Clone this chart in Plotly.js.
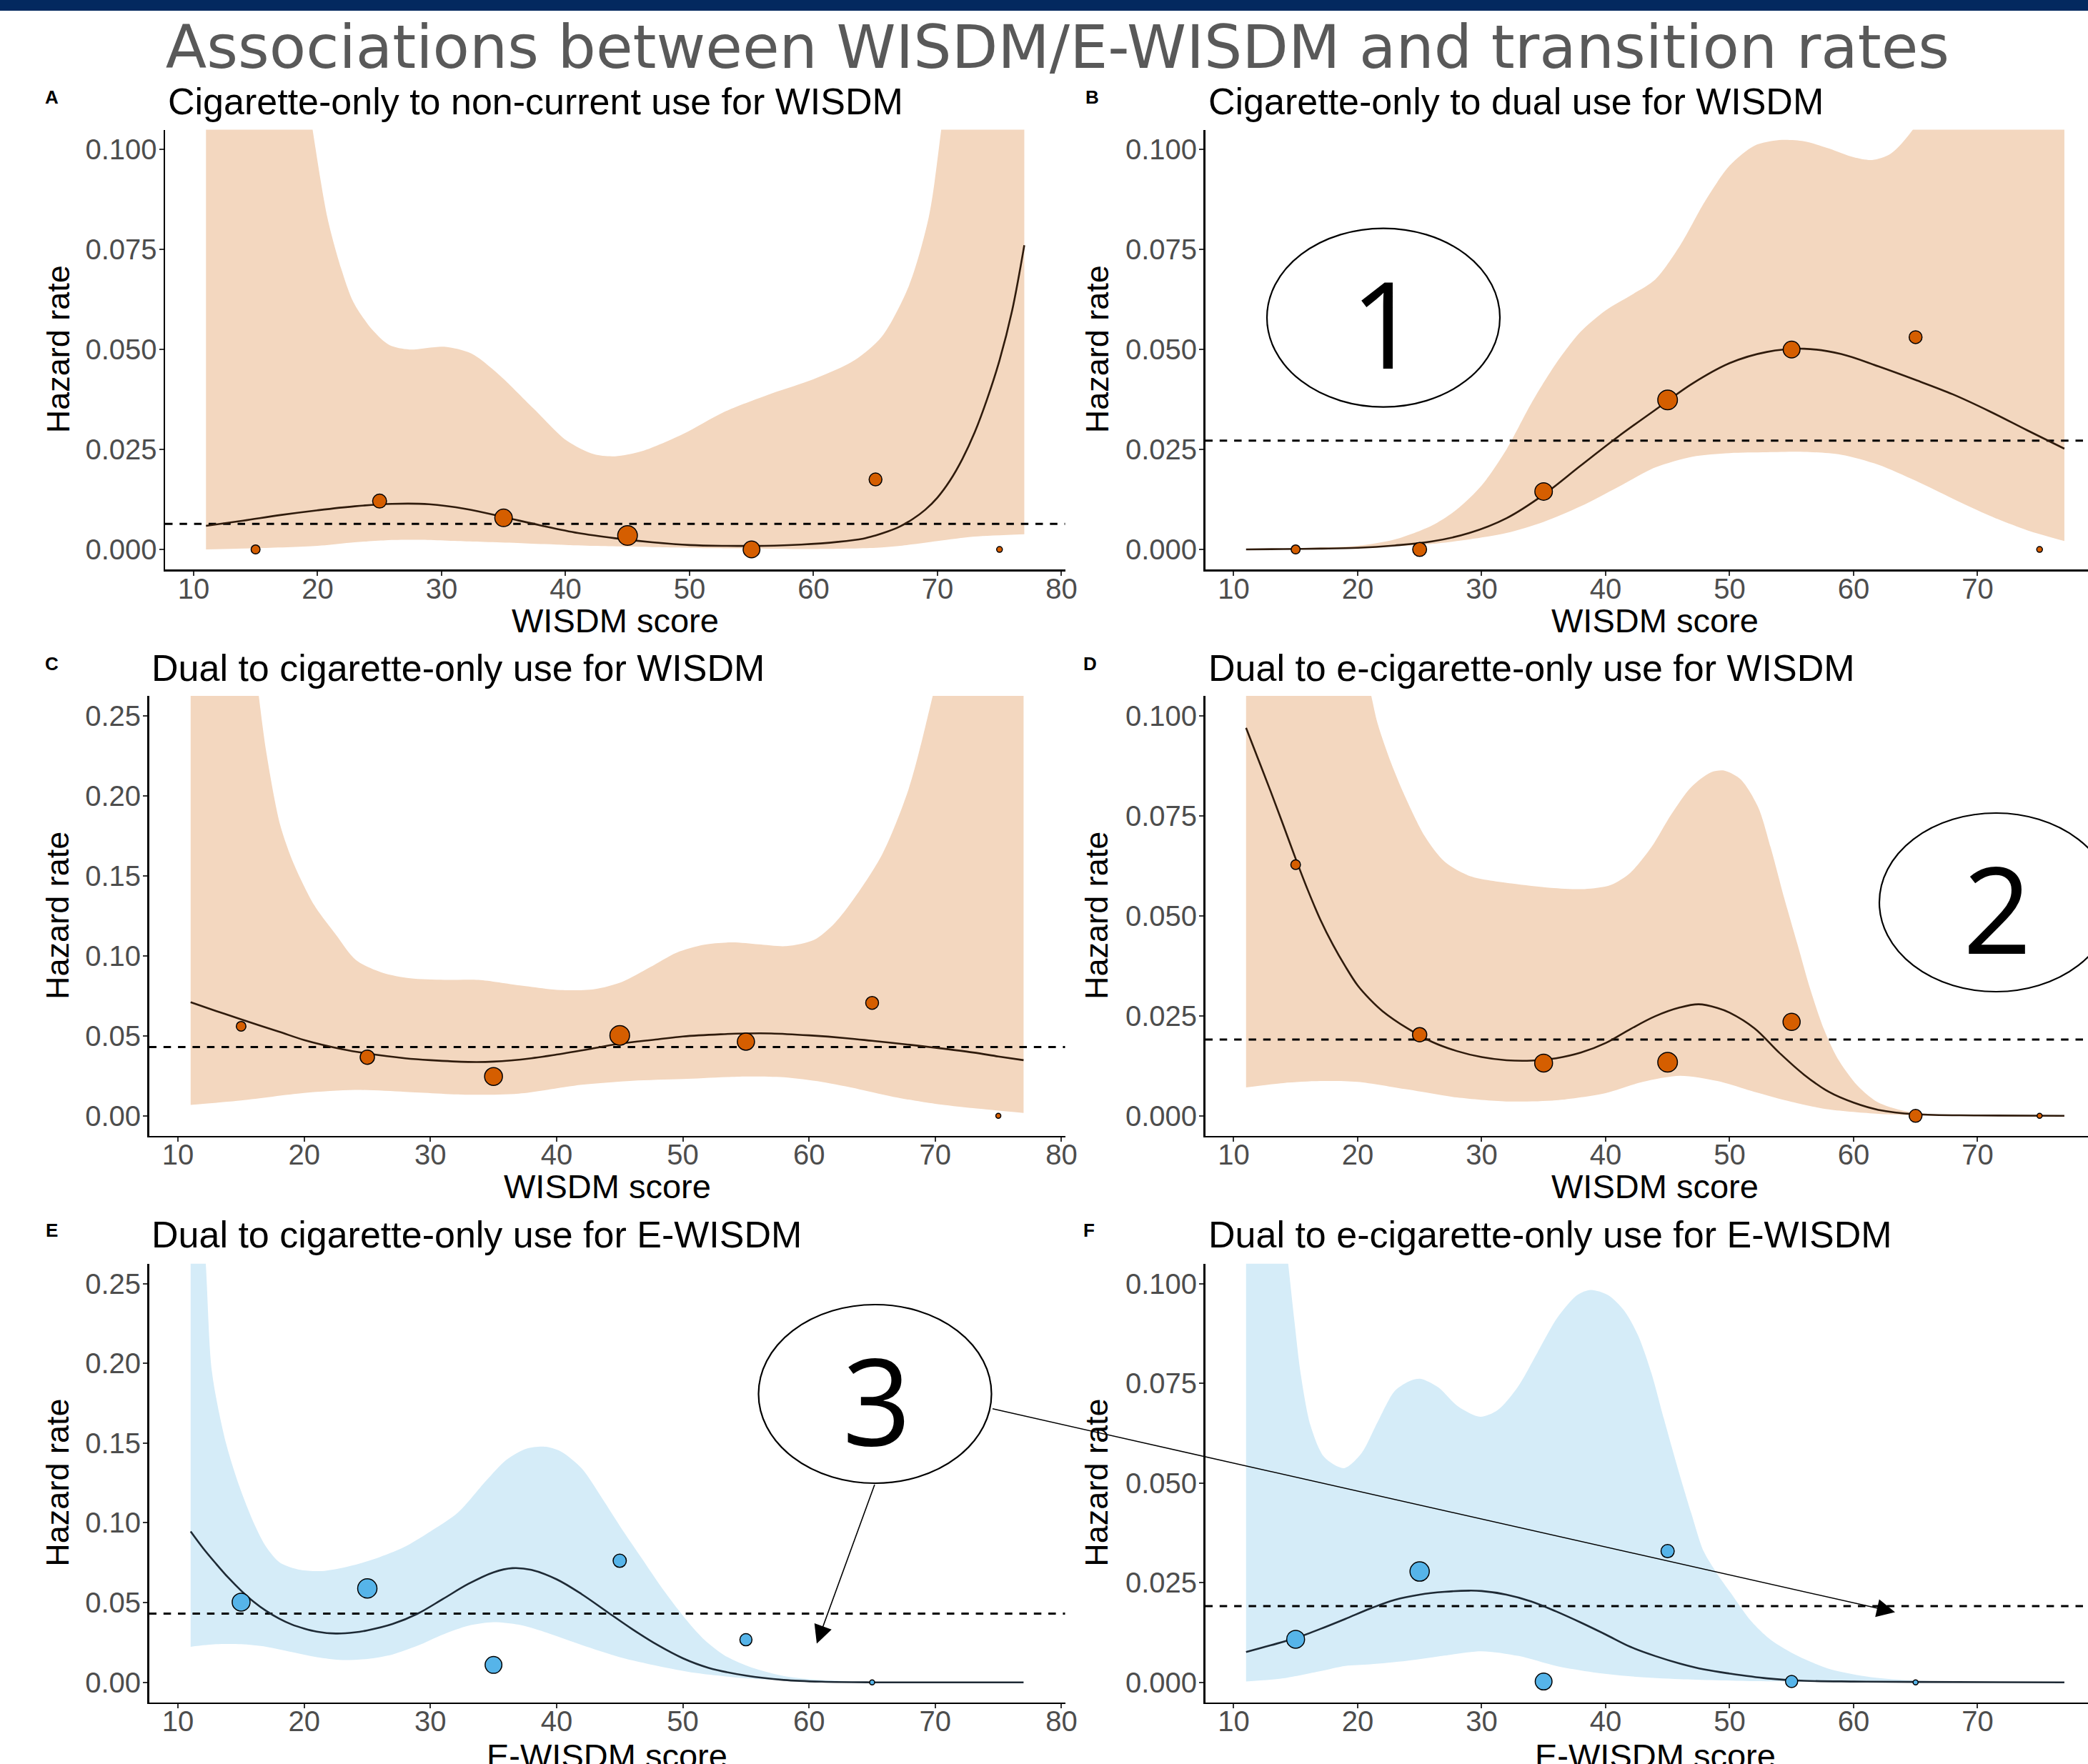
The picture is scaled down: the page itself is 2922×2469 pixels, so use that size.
<!DOCTYPE html>
<html><head><meta charset="utf-8">
<script src="https://cdn.plot.ly/plotly-3.0.1.min.js"></script>
<style>html,body{margin:0;padding:0;background:#fff;}#chart{width:2922px;height:2469px;}</style>
</head><body><div id="chart"></div>
<script>
// ---------------- DATA ----------------
const mainTitle = 'Associations between WISDM/E-WISDM and transition rates';
const panelLetters = ['A','B','C','D','E','F'];
const panelTitles = [
  'Cigarette-only to non-current use for WISDM',
  'Cigarette-only to dual use for WISDM',
  'Dual to cigarette-only use for WISDM',
  'Dual to e-cigarette-only use for WISDM',
  'Dual to cigarette-only use for E-WISDM',
  'Dual to e-cigarette-only use for E-WISDM'
];
const xTitles = ['WISDM score','WISDM score','WISDM score','WISDM score','E-WISDM score','E-WISDM score'];
const yTitle = 'Hazard rate';
const xTicks = [10,20,30,40,50,60,70,80];
const yTicksSmall = [0,0.025,0.05,0.075,0.1];
const yTickTextSmall = ['0.000','0.025','0.050','0.075','0.100'];
const yTicksLarge = [0,0.05,0.1,0.15,0.2,0.25];
const yTickTextLarge = ['0.00','0.05','0.10','0.15','0.20','0.25'];

// binned observed hazards (score bins)
const binX7 = [15,25,35,45,55,65,75];
const binX6 = [15,25,35,45,55,65];
const nCigOnly = [12.5,19.5,24.5,27.5,23.5,18,8];   // relative bin counts
const nDualW   = [13.5,20,25,27.5,24,18,7];
const nDualE   = [25,27,23.5,18.5,17,7];

const ptsA = [0,0.0121,0.0079,0.0035,0,0.0175,0];
const ptsB = [0,0,0.0145,0.0374,0.050,0.0531,0];
const ptsC = [0.056,0.0367,0.0246,0.0503,0.0464,0.0706,0];
const ptsD = [0.0628,0.0203,0.0132,0.0134,0.0235,0,0];
const ptsE = [0.0503,0.0589,0.0109,0.0762,0.0267,0];
const ptsF = [0.0108,0.0278,0.0002,0.0329,0.0002,0];

// overall (average) hazard rates
const overallA = 0.0064, overallB = 0.0272, overallC = 0.043;
const overallD = 0.0191, overallE = 0.0431, overallF = 0.0191;

// fitted curves
const fitA_x = [11,14,17,20,23,26,29,32,35,38,41,44,47,50,53,56,59,62,64,65,66,67,68,69,70,71,72,73,74,75,76,77];
const fitA_y = [0.0059,0.0072,0.0086,0.0098,0.0108,0.0114,0.0113,0.0101,0.0081,0.006,0.0041,0.0028,0.0018,0.0011,0.0009,0.0009,0.0012,0.0019,0.0027,0.0035,0.0045,0.0058,0.0076,0.0099,0.013,0.0172,0.0226,0.0293,0.0376,0.0473,0.0595,0.0761];
const fitB_x = [11,14,17,20,23,26,29,32,35,38,41,44,47,50,53,56,59,62,65,68,71,74,77];
const fitB_y = [0,0.0001,0.0002,0.0004,0.001,0.002,0.0041,0.0078,0.0137,0.021,0.0282,0.0349,0.0415,0.0466,0.0494,0.0502,0.0489,0.0458,0.0424,0.0388,0.0345,0.0298,0.0252];
const fitC_x = [11,13,15,18,20,23,25,28,30,33,35,38,40,43,45,48,50,53,55,57,60,63,65,68,70,73,75,77];
const fitC_y = [0.071,0.0656,0.0603,0.0526,0.0474,0.0417,0.039,0.036,0.0348,0.0337,0.0339,0.036,0.0383,0.0423,0.0451,0.0478,0.0496,0.051,0.0515,0.0515,0.0503,0.0485,0.0469,0.0444,0.0426,0.0396,0.0371,0.0348];
const fitD_x = [11,12,13,14,15,16,17,18,19,20,21,22,24,26,28,30,32,34,36,38,40,42,44,46,47.5,49,50,52,54,56,58,60,62,65,70,77];
const fitD_y = [0.097,0.089,0.081,0.0727,0.0643,0.0563,0.049,0.0428,0.0374,0.0326,0.0291,0.0262,0.0219,0.0185,0.0162,0.0147,0.0139,0.0138,0.0144,0.0158,0.0182,0.0217,0.0249,0.0271,0.0279,0.027,0.0258,0.0219,0.0158,0.0103,0.006,0.0033,0.0015,0.0004,0.0001,0];
const fitE_x = [11,12,13,14,15,16,17,18,19,20,21,22.5,24,25,27,29,31,33,35,36.5,38,40,42,44,46,48,50,52,55,58,61,65,77];
const fitE_y = [0.0946,0.084,0.0745,0.0655,0.0575,0.0505,0.0447,0.040,0.0363,0.0337,0.0318,0.0306,0.0313,0.0326,0.0366,0.0431,0.0523,0.0617,0.069,0.0716,0.0705,0.0646,0.0552,0.0442,0.0333,0.0234,0.0151,0.0092,0.0042,0.0015,0.0004,0,0];
const fitF_x = [11,13,15,17,19,21,23,25,27,29,30,32,34,36,38,40,42,44,46,48,50,53,56,60,65,77];
const fitF_y = [0.0076,0.0093,0.0111,0.0134,0.0159,0.0185,0.0207,0.022,0.0227,0.023,0.0229,0.022,0.0203,0.0178,0.015,0.012,0.0089,0.0066,0.0047,0.0032,0.0022,0.001,0.0004,0.0002,0.0001,0];

// confidence bands (upper / lower)
const upA_x = [11,15,18,19.6,20.8,21.9,22.9,24.4,25.8,27.4,30.2,32.4,34.6,37.4,40.1,42.3,44.0,46.2,49.5,52.8,56.7,60.0,63.3,65.5,67.7,69.3,70.3,72,77];
const upA_y = [0.40,0.22,0.14,0.105,0.0829,0.0703,0.0618,0.055,0.0511,0.050,0.0507,0.049,0.0438,0.0353,0.0272,0.0238,0.0233,0.0246,0.0289,0.0344,0.0391,0.0426,0.0473,0.0532,0.066,0.0832,0.105,0.15,0.40];
const loA_x = [11,15,20,23,25.5,28,32,37,42,47,52,60,65,67,70,73,77];
const loA_y = [0.0,0.0003,0.0009,0.0018,0.0023,0.0024,0.0020,0.0015,0.0009,0.0006,0.0003,0.0001,0.0004,0.0009,0.0021,0.0032,0.0038];
const upB_x = [11,14,17,20,23,26,28,30,32,34,36,38,40,42,44,46,48,50,52,54,56,58,60,61.5,63,65,67,72,77];
const upB_y = [0,0.0002,0.0005,0.0009,0.0025,0.006,0.010,0.016,0.025,0.0365,0.0465,0.0545,0.0598,0.0635,0.0675,0.076,0.087,0.096,0.101,0.1024,0.1021,0.1003,0.0981,0.0974,0.099,0.106,0.12,0.17,0.22];
const loB_x = [11,14,17,20,23,26,29,32,35,38,41,44,47,50,53,56,59,62,65,68,71,74,77];
const loB_y = [0,0.0001,0.0002,0.0004,0.0008,0.0014,0.0025,0.0041,0.0069,0.0108,0.0156,0.0205,0.0232,0.0241,0.0243,0.0244,0.0237,0.0212,0.0172,0.0127,0.0084,0.0048,0.0021];
const upC_x = [11,13,15,16.4,17.0,18.1,19.2,20.8,22.5,24.1,26.2,28.4,31.1,33.8,37.1,40.3,43.0,45.2,47.4,49.5,51.7,53.9,56.0,58.2,60.4,62.0,63.6,65.8,67.9,69.8,72,77];
const upC_y = [0.65,0.5,0.36,0.2625,0.227,0.1817,0.157,0.1316,0.1134,0.0974,0.0895,0.086,0.085,0.085,0.0815,0.0786,0.0792,0.0838,0.0929,0.102,0.107,0.1084,0.1072,0.1061,0.11,0.1202,0.1362,0.1635,0.2045,0.2625,0.34,0.55];
const loC_x = [11,15,20,24,28,33,37,42,46,50,55,58,61,64,67,70,73,77];
const loC_y = [0.0068,0.0096,0.0143,0.0162,0.015,0.0132,0.0139,0.0194,0.0219,0.023,0.0246,0.0241,0.0212,0.0166,0.0114,0.0075,0.0048,0.0018];
const upD_x = [11,15,20,21.1,21.6,22.7,23.8,25.4,27.0,29.1,32.4,35.6,38.3,40.4,42.0,43.7,45.3,46.9,48.5,49.6,50.9,52.3,53.3,54.4,55.5,56.5,57.6,58.7,60.3,61.9,64.1,66.8,70,77];
const upD_y = [0.35,0.22,0.12,0.105,0.0982,0.0882,0.08,0.07,0.0636,0.0599,0.0581,0.057,0.0567,0.0577,0.0608,0.0672,0.0754,0.0822,0.0859,0.0863,0.0841,0.0772,0.0672,0.0545,0.0426,0.0317,0.0217,0.0144,0.0076,0.0035,0.0012,0.0003,0.0001,0];
const loD_x = [11,14,17,20,24,28,32,36,40,43,46,49,52,55,58,62,66,77];
const loD_y = [0.0071,0.0082,0.0087,0.0085,0.0066,0.0046,0.0036,0.0039,0.0057,0.0085,0.01,0.0087,0.006,0.0035,0.0016,0.0005,0.0001,0];
const upE_x = [11,12.2,12.7,13.8,14.9,16.0,17.0,18.1,19.7,21.4,23.5,25.7,27.9,30.0,32.2,34.4,36.0,37.6,39.0,40.3,42.0,43.6,45.2,46.8,48.4,50.1,51.7,53.3,55.5,58.2,60.9,65.2,77];
const upE_y = [0.42,0.2625,0.194,0.150,0.122,0.1,0.0847,0.0749,0.0705,0.0698,0.0727,0.0777,0.0847,0.0946,0.1066,0.1263,0.1394,0.1465,0.1478,0.1449,0.134,0.1154,0.0957,0.0771,0.0585,0.0409,0.0267,0.0169,0.0092,0.0037,0.0015,0.0003,0];
const loE_x = [11,13,15,17,19,21,23,25,27,29,31,33,35,37,39,42,45,48,51,55,60,65,77];
const loE_y = [0.0223,0.0239,0.0239,0.0223,0.019,0.0158,0.014,0.0147,0.0175,0.023,0.03,0.0355,0.0377,0.0361,0.0317,0.0234,0.0158,0.0103,0.0059,0.0026,0.0009,0.0002,0];
const upF_x = [11,12.5,13.5,14.4,14.9,15.4,16.2,17.3,18.9,20.3,21.6,23.0,24.3,25.1,26.5,28.1,29.9,31.3,32.9,34.5,36.1,37.7,38.8,40.2,41.5,42.6,43.7,44.7,45.8,46.9,47.9,49.0,50.1,51.7,53.3,55.5,58.2,61.4,65.2,77];
const upF_y = [0.30,0.18,0.132,0.105,0.0906,0.0775,0.0644,0.0565,0.0537,0.0574,0.0652,0.0731,0.0757,0.0761,0.074,0.0692,0.0666,0.0683,0.074,0.0827,0.0914,0.0971,0.0984,0.0971,0.0932,0.0871,0.0775,0.0661,0.0539,0.0425,0.0329,0.0272,0.0224,0.0155,0.0107,0.0066,0.0032,0.0013,0.0004,0];
const loF_x = [11,14,17,19,21,24,27,30,33,36,39,42,46,52,60,77];
const loF_y = [0.0002,0.001,0.0028,0.0041,0.0045,0.0054,0.0067,0.0078,0.0066,0.0041,0.0025,0.0015,0.0008,0.0003,0.0001,0];

const calloutLabels = ['1','2','3'];

// ---------------- STYLE / LAYOUT ----------------
const W = 2922, H = 2469;
const fx = p => p / W, fy = p => 1 - p / H;
const ORANGE = '#D55E00', ORANGE_BAND = '#F3D7BF', ORANGE_LINE = '#2F1B0C';
const BLUE = '#56B4E9', BLUE_BAND = '#D5ECF8', BLUE_LINE = '#1E2A35';
const pxPerUnit = (1490.7 - 231) / 72.6;
const rightEnd = 7.7 + (2922 - 1686.5) / pxPerUnit;
const small = [-0.005, 0.105], large = [-0.0125, 0.2625];

const panels = [
  {l:231, r:1490.7, t:181.5, b:797, xr:[7.7,80.3], yr:small, ticks:'s', bx:binX7, by:ptsA, n:nCigOnly, fx:fitA_x, fy:fitA_y, ux:upA_x, uy:upA_y, lx:loA_x, ly:loA_y, h:overallA, c:'o', tl:233, lab:[72,136]},
  {l:1686.5, r:2922, t:181.5, b:797, xr:[7.7,rightEnd], yr:small, ticks:'s', bx:binX7, by:ptsB, n:nCigOnly, fx:fitB_x, fy:fitB_y, ux:upB_x, uy:upB_y, lx:loB_x, ly:loB_y, h:overallB, c:'o', tl:1689, lab:[1528,136]},
  {l:208.5, r:1490.7, t:974, b:1589.8, xr:[7.7,80.3], yr:large, ticks:'l', bx:binX7, by:ptsC, n:nDualW, fx:fitC_x, fy:fitC_y, ux:upC_x, uy:upC_y, lx:loC_x, ly:loC_y, h:overallC, c:'o', tl:210, lab:[72,929]},
  {l:1686.5, r:2922, t:974, b:1589.8, xr:[7.7,rightEnd], yr:small, ticks:'s', bx:binX7, by:ptsD, n:nDualW, fx:fitD_x, fy:fitD_y, ux:upD_x, uy:upD_y, lx:loD_x, ly:loD_y, h:overallD, c:'o', tl:1689, lab:[1526,929]},
  {l:208.5, r:1490.7, t:1768.7, b:2382.6, xr:[7.7,80.3], yr:large, ticks:'l', bx:binX6, by:ptsE, n:nDualE, fx:fitE_x, fy:fitE_y, ux:upE_x, uy:upE_y, lx:loE_x, ly:loE_y, h:overallE, c:'b', tl:210, lab:[72,1722]},
  {l:1686.5, r:2922, t:1768.7, b:2382.6, xr:[7.7,rightEnd], yr:small, ticks:'s', bx:binX6, by:ptsF, n:nDualE, fx:fitF_x, fy:fitF_y, ux:upF_x, uy:upF_y, lx:loF_x, ly:loF_y, h:overallF, c:'b', tl:1689, lab:[1524,1722]}
];

const traces = [];
const layout = {
  width: W, height: H, margin:{l:0,r:0,t:0,b:0,pad:0},
  paper_bgcolor:'#fff', plot_bgcolor:'rgba(0,0,0,0)', showlegend:false,
  font:{family:'Liberation Sans, Arial, sans-serif', color:'#000'},
  title:{text:mainTitle, x:1480/W, xanchor:'center', xref:'paper', y:fy(66), yanchor:'middle', yref:'paper',
         font:{family:'DejaVu Sans, sans-serif', size:84, color:'#595959'}},
  shapes:[{type:'rect', xref:'paper', yref:'paper', x0:0, x1:1, y0:fy(15), y1:1, fillcolor:'#03295F', line:{width:0}, layer:'above'}],
  annotations:[]
};

panels.forEach((p, i) => {
  const k = i === 0 ? '' : String(i + 1);
  const xa = 'x' + k, ya = 'y' + k;
  const bandCol = p.c === 'o' ? ORANGE_BAND : BLUE_BAND;
  const ptCol = p.c === 'o' ? ORANGE : BLUE;
  const lineCol = p.c === 'o' ? ORANGE_LINE : BLUE_LINE;
  traces.push({type:'scatter', mode:'lines', x:p.lx, y:p.ly, xaxis:xa, yaxis:ya, line:{width:0, shape:'spline', smoothing:0.8}, hoverinfo:'skip'});
  traces.push({type:'scatter', mode:'lines', x:p.ux, y:p.uy, xaxis:xa, yaxis:ya, line:{width:0, shape:'spline', smoothing:0.8}, fill:'tonexty', fillcolor:bandCol, hoverinfo:'skip'});
  traces.push({type:'scatter', mode:'lines', x:[p.xr[0], p.xr[1]], y:[p.h, p.h], xaxis:xa, yaxis:ya, line:{color:'#000', width:3, dash:'10.5px,9.8px'}, hoverinfo:'skip'});
  traces.push({type:'scatter', mode:'lines', x:p.fx, y:p.fy, xaxis:xa, yaxis:ya, line:{color:lineCol, width:2.6, shape:'spline', smoothing:1}, hoverinfo:'skip'});
  traces.push({type:'scatter', mode:'markers', x:p.bx, y:p.by, xaxis:xa, yaxis:ya, cliponaxis:false, opacity:1,
    marker:{size:p.n, color:ptCol, opacity:1, line:{color:'#000', width:1.5}}, hoverinfo:'skip'});

  const isS = p.ticks === 's';
  layout['xaxis' + k] = {domain:[fx(p.l), fx(p.r)], anchor:ya, range:p.xr, tickvals:xTicks, showgrid:false, zeroline:false,
    showline:true, linecolor:'#000', linewidth:2.5, ticks:'outside', ticklen:6, tickwidth:2, tickcolor:'#333',
    ticklabelstandoff:-16, tickfont:{size:40, color:'#4D4D4D'}, automargin:false, fixedrange:true};
  layout['yaxis' + k] = {domain:[fy(p.b), fy(p.t)], anchor:xa, range:p.yr, tickvals:isS ? yTicksSmall : yTicksLarge,
    ticktext:isS ? yTickTextSmall : yTickTextLarge, showgrid:false, zeroline:false,
    showline:true, linecolor:'#000', linewidth:2.5, ticks:'outside', ticklen:6, tickwidth:2, tickcolor:'#333',
    ticklabelstandoff:-5, tickfont:{size:40, color:'#4D4D4D'}, automargin:false, fixedrange:true};

  // panel title, letter, axis titles
  layout.annotations.push({xref:'paper', yref:'paper', x:fx(p.tl), y:fy(p.lab[1] + 6), xanchor:'left', yanchor:'middle',
    text:panelTitles[i], showarrow:false, font:{size:52, color:'#000'}});
  layout.annotations.push({xref:'paper', yref:'paper', x:fx(p.lab[0]), y:fy(p.lab[1]), xanchor:'center', yanchor:'middle',
    text:'<b>' + panelLetters[i] + '</b>', showarrow:false, font:{size:26, color:'#000'}});
  const xc = p.l + (p.r === 2922 ? (80.3 - 7.7) * pxPerUnit / 2 : (p.r - p.l) / 2);
  const xty = p.b > 2000 ? 2457 : p.b + 71;
  layout.annotations.push({xref:'paper', yref:'paper', x:fx(xc), y:fy(xty), xanchor:'center', yanchor:'middle',
    text:xTitles[i], showarrow:false, font:{size:47, color:'#000'}});
  layout.annotations.push({xref:'paper', yref:'paper', x:fx(p.r === 2922 ? 1535 : 81), y:fy((p.t + p.b) / 2), xanchor:'center', yanchor:'middle',
    text:yTitle, textangle:-90, showarrow:false, font:{size:45, color:'#000'}});
});

// callout ellipses with numbers
const ellipses = [[1936,444.6],[2793,1263],[1224.5,1951]];
ellipses.forEach((e, j) => {
  layout.shapes.push({type:'circle', xref:'paper', yref:'paper', x0:fx(e[0]-163), x1:fx(e[0]+163), y0:fy(e[1]+125), y1:fy(e[1]-125),
    fillcolor:'#fff', line:{color:'#000', width:2.2}, layer:'above'});
  layout.annotations.push({xref:'paper', yref:'paper', x:fx(e[0]+2), y:fy(e[1]+6), xanchor:'center', yanchor:'middle',
    text:calloutLabels[j], showarrow:false, font:{family:'Open Sans, Noto Sans, sans-serif', size:168, color:'#000'}});
});
// arrows from callout 3
layout.annotations.push({xref:'paper', yref:'paper', x:fx(1143), y:fy(2300.5), ax:1224.5-1143, ay:2076.6-2300.5, axref:'pixel', ayref:'pixel',
  text:'', showarrow:true, arrowhead:2, arrowsize:3.2, arrowwidth:1.6, arrowcolor:'#000', standoff:0});
layout.annotations.push({xref:'paper', yref:'paper', x:fx(2652), y:fy(2256.5), ax:1387.5-2652, ay:1971.5-2256.5, axref:'pixel', ayref:'pixel',
  text:'', showarrow:true, arrowhead:2, arrowsize:3.2, arrowwidth:1.6, arrowcolor:'#000', standoff:0});

Plotly.newPlot('chart', traces, layout, {displayModeBar:false, staticPlot:true});
</script></body></html>
